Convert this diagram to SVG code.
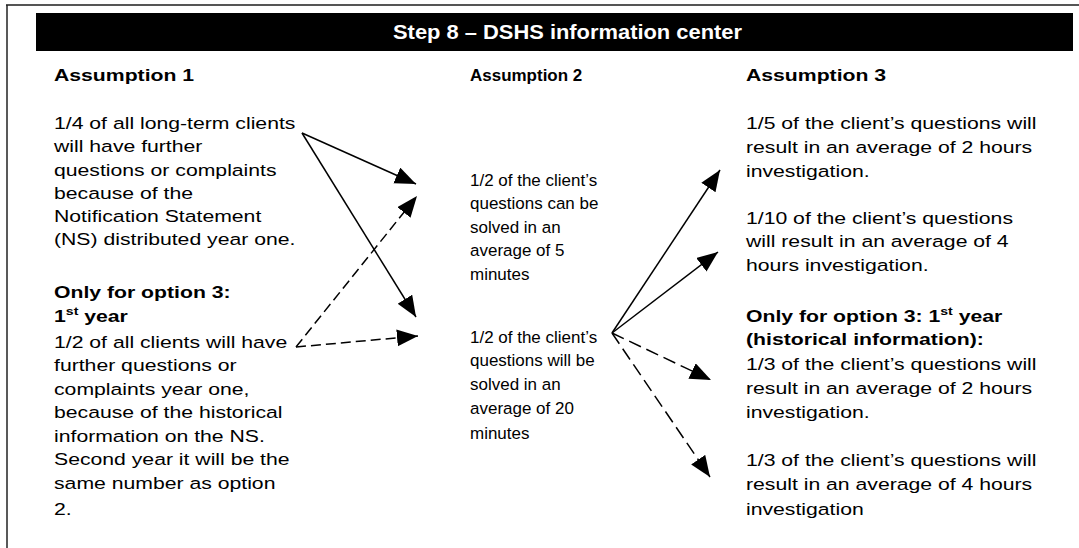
<svg xmlns="http://www.w3.org/2000/svg" width="1079" height="548" viewBox="0 0 1079 548">
  <style>
    .t { font-family: "Liberation Sans", Arial, sans-serif; font-size: 16.5px; fill: #000; }
    .b { font-weight: bold; }
    .title { font-family: "Liberation Sans", Arial, sans-serif; font-size: 21px; font-weight: bold; fill: #fff; }
    .sup { font-size: 11px; }
    .ln { fill: none; stroke: #000; stroke-width: 1.5; }
    .dash { stroke-dasharray: 10 5; }
    .dash2 { stroke-dasharray: 13 6; }
  </style>
  <defs>
    <marker id="ah" markerUnits="userSpaceOnUse" markerWidth="23" markerHeight="19" refX="21" refY="8.5" orient="auto">
      <path d="M0,0 L21,8.5 L0,17 Z" fill="#000"/>
    </marker>
  </defs>

  <rect width="1079" height="548" fill="#fff"/>

  <!-- page frame -->
  <g id="frame">
    <line x1="6" y1="5" x2="1079" y2="5" stroke="#555" stroke-width="2"/>
    <line x1="7" y1="5" x2="7" y2="548" stroke="#222" stroke-width="1.5"/>
  </g>

  <!-- header bar -->
  <g id="header">
    <rect x="36" y="13" width="1037" height="38" fill="#000"/>
    <text class="title" x="393" y="39" textLength="349" lengthAdjust="spacingAndGlyphs">Step 8 – DSHS information center</text>
  </g>

  <!-- Assumption 1 -->
  <g id="assumption1" transform="translate(54,0) scale(1.285,1)">
    <text class="t b" x="0" y="81">Assumption 1</text>
    <text class="t" x="0" y="129">1/4 of all long-term clients</text>
    <text class="t" x="0" y="152">will have further</text>
    <text class="t" x="0" y="176">questions or complaints</text>
    <text class="t" x="0" y="199">because of the</text>
    <text class="t" x="0" y="222">Notification Statement</text>
    <text class="t" x="0" y="245">(NS) distributed year one.</text>
    <text class="t b" x="0" y="298">Only for option 3:</text>
    <text class="t b" x="0" y="322">1<tspan class="sup" dy="-7">st</tspan><tspan dy="7"> year</tspan></text>
    <text class="t" x="0" y="348">1/2 of all clients will have</text>
    <text class="t" x="0" y="371">further questions or</text>
    <text class="t" x="0" y="395">complaints year one,</text>
    <text class="t" x="0" y="418">because of the historical</text>
    <text class="t" x="0" y="442">information on the NS.</text>
    <text class="t" x="0" y="465">Second year it will be the</text>
    <text class="t" x="0" y="489">same number as option</text>
    <text class="t" x="0" y="515">2.</text>
  </g>

  <!-- Assumption 2 -->
  <g id="assumption2" transform="translate(470,0) scale(1.03,1)">
    <text class="t b" x="0" y="81">Assumption 2</text>
    <text class="t" x="0" y="186">1/2 of the client’s</text>
    <text class="t" x="0" y="209">questions can be</text>
    <text class="t" x="0" y="233">solved in an</text>
    <text class="t" x="0" y="256">average of 5</text>
    <text class="t" x="0" y="280">minutes</text>
    <text class="t" x="0" y="343">1/2 of the client’s</text>
    <text class="t" x="0" y="366">questions will be</text>
    <text class="t" x="0" y="390">solved in an</text>
    <text class="t" x="0" y="414">average of 20</text>
    <text class="t" x="0" y="439">minutes</text>
  </g>

  <!-- Assumption 3 -->
  <g id="assumption3" transform="translate(746,0) scale(1.285,1)">
    <text class="t b" x="0" y="81">Assumption 3</text>
    <text class="t" x="0" y="129">1/5 of the client’s questions will</text>
    <text class="t" x="0" y="153">result in an average of 2 hours</text>
    <text class="t" x="0" y="177">investigation.</text>
    <text class="t" x="0" y="224">1/10 of the client’s questions</text>
    <text class="t" x="0" y="247">will result in an average of 4</text>
    <text class="t" x="0" y="271">hours investigation.</text>
    <text class="t b" x="0" y="322">Only for option 3: 1<tspan class="sup" dy="-7">st</tspan><tspan dy="7"> year</tspan></text>
    <text class="t b" x="0" y="345">(historical information):</text>
    <text class="t" x="0" y="370">1/3 of the client’s questions will</text>
    <text class="t" x="0" y="394">result in an average of 2 hours</text>
    <text class="t" x="0" y="418">investigation.</text>
    <text class="t" x="0" y="466">1/3 of the client’s questions will</text>
    <text class="t" x="0" y="490">result in an average of 4 hours</text>
    <text class="t" x="0" y="515">investigation</text>
  </g>

  <!-- connectors -->
  <g id="connectors">
    <line class="ln" x1="302" y1="133" x2="416" y2="184" marker-end="url(#ah)"/>
    <line class="ln" x1="302" y1="133" x2="416" y2="317" marker-end="url(#ah)"/>
    <line class="ln dash" x1="296" y1="347" x2="417" y2="196" marker-end="url(#ah)"/>
    <line class="ln dash" x1="296" y1="347" x2="418" y2="336" marker-end="url(#ah)"/>
    <line class="ln" x1="612" y1="333" x2="720" y2="170" marker-end="url(#ah)"/>
    <line class="ln" x1="612" y1="333" x2="718" y2="252" marker-end="url(#ah)"/>
    <line class="ln dash2" x1="612" y1="333" x2="711" y2="380" marker-end="url(#ah)"/>
    <line class="ln dash2" x1="612" y1="333" x2="710" y2="477" marker-end="url(#ah)"/>
  </g>
</svg>
